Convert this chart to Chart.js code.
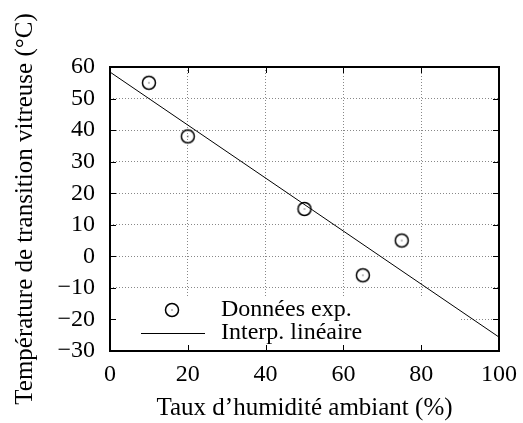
<!DOCTYPE html>
<html>
<head>
<meta charset="utf-8">
<script src="https://cdn.jsdelivr.net/npm/chart.js@4"></script>
<style>
  body { margin: 0; background: #fff; }
  #wrap { width: 523px; height: 423px; }
</style>
</head>
<body>
<div id="wrap"><canvas id="chart"></canvas></div>
<script>
// measured points
const humidity = [10, 20, 50, 65, 75];
const tg = [55, 38, 15, -6, 5];
// fitted line, end points
const fitX = [0, 100];
const fitY = [58.4, -25.6];

const xTicks = [0, 20, 40, 60, 80, 100];
const yTicks = [-30, -20, -10, 0, 10, 20, 30, 40, 50, 60];

const labelExp = 'Données exp.';
const labelFit = 'Interp. linéaire';

const FONT = 'Liberation Serif';

// circle with a dot in the middle, like gnuplot pt 6
function makeMarker() {
    const c = document.createElement('canvas');
    c.width = 18; c.height = 18;
    const g = c.getContext('2d');
    g.strokeStyle = '#000';
    g.lineWidth = 1.5;
    g.beginPath();
    g.arc(9, 9, 6.5, 0, Math.PI * 2);
    g.stroke();
    g.fillStyle = '#000';
    g.fillRect(8.5, 8.5, 1, 1);
    return c;
}
const marker = makeMarker();

// inward ticks on all four sides + legend box drawn inside plot
const gnuplotLook = {
    id: 'gnuplotLook',
    beforeDatasetsDraw(chart) {
        const { ctx, chartArea: a } = chart;
        // legend area hides the grid
        ctx.save();
        ctx.fillStyle = '#fff';
        ctx.fillRect(a.left + 1, a.bottom - 53, 350, 52);
        ctx.restore();
    },
    afterDraw(chart) {
        const { ctx, chartArea: a, scales } = chart;
        ctx.save();
        ctx.strokeStyle = '#000';
        ctx.lineWidth = 1;
        const len = 6;
        ctx.beginPath();
        xTicks.forEach(v => {
            const px = Math.round(scales.x.getPixelForValue(v)) + 0.5;
            ctx.moveTo(px, a.bottom); ctx.lineTo(px, a.bottom - len);
            ctx.moveTo(px, a.top); ctx.lineTo(px, a.top + len);
        });
        yTicks.forEach(v => {
            const py = Math.round(scales.y.getPixelForValue(v)) + 0.5;
            ctx.moveTo(a.left, py); ctx.lineTo(a.left + len, py);
            ctx.moveTo(a.right, py); ctx.lineTo(a.right - len, py);
        });
        ctx.stroke();
        ctx.lineWidth = 2;
        ctx.strokeRect(a.left, a.top, a.right - a.left, a.bottom - a.top);

        // legend
        const ds = chart.data.datasets;
        ctx.font = '24px "' + FONT + '"';
        ctx.fillStyle = '#000';
        ctx.textBaseline = 'middle';
        ctx.textAlign = 'left';
        const tx = a.left + 111;
        const y1 = a.bottom - 41;
        const y2 = a.bottom - 18;
        ctx.drawImage(marker, a.left + 62 - 9, y1 - 9);
        ctx.fillText(ds[0].label, tx, y1);
        ctx.lineWidth = 1;
        ctx.beginPath();
        ctx.moveTo(a.left + 31, y2 + 0.5);
        ctx.lineTo(a.left + 95, y2 + 0.5);
        ctx.stroke();
        ctx.fillText(ds[1].label, tx, y2);
        ctx.restore();
    }
};

new Chart(document.querySelector('#chart').getContext('2d'), {
    type: 'scatter',
    data: {
        datasets: [
            {
                label: labelExp,
                data: humidity.map((x, i) => ({ x: x, y: tg[i] })),
                pointStyle: marker,
                pointRadius: 9,
                showLine: false
            },
            {
                label: labelFit,
                data: fitX.map((x, i) => ({ x: x, y: fitY[i] })),
                showLine: true,
                borderColor: '#000',
                borderWidth: 1,
                pointRadius: 0
            }
        ]
    },
    plugins: [gnuplotLook],
    options: {
        responsive: true,
        maintainAspectRatio: false,
        animation: false,
        layout: { padding: { top: 67, right: 24, left: 0, bottom: 0 } },
        plugins: {
            legend: { display: false },
            tooltip: { enabled: false }
        },
        scales: {
            x: {
                type: 'linear',
                min: 0, max: 100,
                afterBuildTicks: s => { s.ticks = xTicks.map(v => ({ value: v })); },
                afterFit: s => { s.height = 72; s.paddingLeft = 0; s.paddingRight = 0; },
                grid: { color: '#888', drawTicks: false },
                border: { display: false, dash: [1, 2] },
                ticks: { color: '#000', font: { family: FONT, size: 24 }, padding: 9, maxRotation: 0, autoSkip: false },
                title: {
                    display: true,
                    text: 'Taux d\u2019humidité ambiant (%)',
                    color: '#000',
                    font: { family: FONT, size: 25 },
                    padding: { top: 4, bottom: 0 }
                }
            },
            y: {
                min: -30, max: 60,
                afterBuildTicks: s => { s.ticks = yTicks.map(v => ({ value: v })); },
                afterFit: s => { s.width = 110; s.paddingTop = 0; s.paddingBottom = 0; },
                grid: { color: '#888', drawTicks: false },
                border: { display: false, dash: [1, 2] },
                ticks: {
                    color: '#000', font: { family: FONT, size: 24 }, padding: 15, autoSkip: false,
                    callback: v => v < 0 ? '\u2212' + Math.abs(v) : String(v)
                },
                title: {
                    display: true,
                    text: 'Température de transition vitreuse (°C)',
                    color: '#000',
                    font: { family: FONT, size: 25 },
                    padding: { top: 10, bottom: 4 }
                }
            }
        }
    }
});
</script>
</body>
</html>
